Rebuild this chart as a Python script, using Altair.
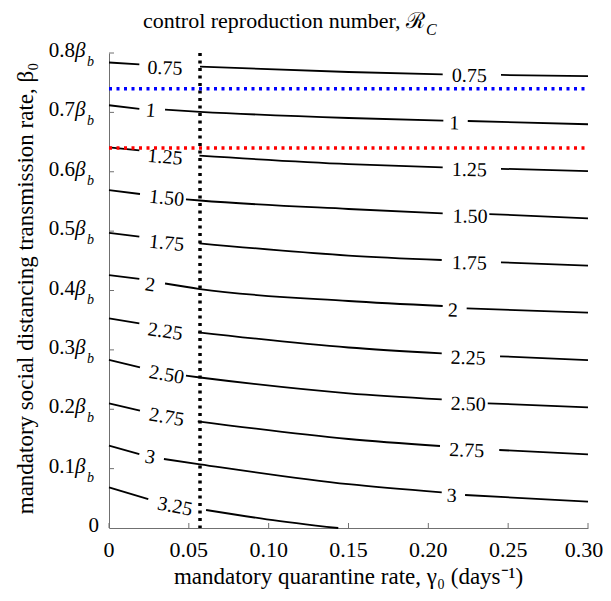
import altair as alt
import pandas as pd

# ---------------- data ----------------
# x: mandatory quarantine rate gamma0 (days^-1); y: beta0 in units of beta_b
# each contour = list of visible segments (gaps are where labels sit)
C0_75 = [[(0.0, 0.784), (0.019, 0.781)],
         [(0.057, 0.777), (0.150, 0.768), (0.209, 0.764)],
         [(0.2455, 0.763), (0.300, 0.761)]]
C1_00 = [[(0.0, 0.712), (0.019, 0.706)],
         [(0.0351, 0.7045), (0.057, 0.701), (0.150, 0.6905), (0.2094, 0.686)],
         [(0.2247, 0.6855), (0.300, 0.680)]]
C1_25 = [[(0.0, 0.641), (0.019, 0.636)],
         [(0.0566, 0.627), (0.150, 0.613), (0.209, 0.6075)],
         [(0.2455, 0.605), (0.300, 0.601)]]
C1_50 = [[(0.0, 0.569), (0.0194, 0.5625)],
         [(0.0482, 0.5536), (0.057, 0.5516), (0.150, 0.5373), (0.209, 0.530)],
         [(0.2382, 0.5288), (0.300, 0.5216)]]
C1_75 = [[(0.0, 0.497), (0.019, 0.4906)],
         [(0.0566, 0.4795), (0.150, 0.4589), (0.2084, 0.4514)],
         [(0.2455, 0.4475), (0.300, 0.4418)]]
C2_00 = [[(0.0, 0.426), (0.019, 0.4194)],
         [(0.0351, 0.4118), (0.057, 0.4025), (0.150, 0.3823), (0.209, 0.3739)],
         [(0.224, 0.370), (0.300, 0.3626)]]
C2_25 = [[(0.0, 0.353), (0.019, 0.3448)],
         [(0.0559, 0.3296), (0.150, 0.304), (0.2084, 0.2942)],
         [(0.2449, 0.2892), (0.300, 0.2829)]]
C2_50 = [[(0.0, 0.283), (0.0194, 0.2707)],
         [(0.0482, 0.2565), (0.057, 0.2535), (0.150, 0.2269), (0.2084, 0.2168)],
         [(0.2372, 0.210), (0.300, 0.2033)]]
C2_75 = [[(0.0, 0.210), (0.0194, 0.1976)],
         [(0.0556, 0.1797), (0.150, 0.1499), (0.2073, 0.1381)],
         [(0.2444, 0.1314), (0.300, 0.1241)]]
C3_00 = [[(0.0, 0.1386), (0.019, 0.1246)],
         [(0.0344, 0.1162), (0.057, 0.1073), (0.150, 0.0738), (0.2084, 0.0601)],
         [(0.223, 0.0556), (0.300, 0.0443)]]
C3_25 = [[(0.0, 0.0685), (0.0246, 0.0488)],
         [(0.0608, 0.0303), (0.0988, 0.0147), (0.1436, 0.0)]]
CONTOURS = [C0_75, C1_00, C1_25, C1_50, C1_75, C2_00, C2_25, C2_50, C2_75, C3_00, C3_25]

# inline contour labels
LABEL_TEXT = ["0.75", "1", "1.25", "1.50", "1.75", "2", "2.25", "2.50", "2.75", "3", "3.25",
              "0.75", "1", "1.25", "1.50", "1.75", "2", "2.25", "2.50", "2.75", "3"]
LABEL_X = [0.0351, 0.0261, 0.0351, 0.0361, 0.0361, 0.0257, 0.0351, 0.0361, 0.0361, 0.0257, 0.0413,
           0.2257, 0.2163, 0.2257, 0.2261, 0.2257, 0.2153, 0.2250, 0.2250, 0.2240, 0.2146]
LABEL_Y = [0.7742, 0.7028, 0.6243, 0.5553, 0.4795, 0.4093, 0.3306, 0.2577, 0.1864, 0.1191, 0.0359,
           0.7613, 0.6816, 0.6029, 0.5243, 0.4458, 0.3660, 0.2858, 0.2083, 0.1302, 0.0539]
LABEL_ANGLE = [2, 5, 5, 6, 6, 8, 8, 10, 10, 11, 11,
               1, 1, 1, 1, 1, 1, 1.5, 2, 2, 2]

# reference lines
GAMMA_LINE = 0.057   # vertical dotted black
BETA_BLUE = 0.74     # horizontal dotted blue
BETA_RED = 0.64      # horizontal dotted red

X_TICKS = [0, 0.05, 0.10, 0.15, 0.20, 0.25, 0.30]
X_TICK_TEXT = ["0", "0.05", "0.10", "0.15", "0.20", "0.25", "0.30"]
Y_TICKS = [0.1, 0.2, 0.3, 0.4, 0.5, 0.6, 0.7, 0.8]

# ---------------- build ----------------
W, H = 479, 475
SERIF = "Liberation Serif"
AX = "#707070"

rows = []
seg_id = 0
for c in CONTOURS:
    for seg in c:
        for i, (gx, by) in enumerate(seg):
            rows.append({"g": gx, "b": by, "seg": seg_id, "o": i})
        seg_id += 1
lines_df = pd.DataFrame(rows)
labels_df = pd.DataFrame({"g": LABEL_X, "b": LABEL_Y, "t": LABEL_TEXT, "a": LABEL_ANGLE})

xs = alt.Scale(domain=[0, 0.3], nice=False, zero=False)
ys = alt.Scale(domain=[0, 0.8], nice=False, zero=False)

x_axis = alt.Axis(ticks=False, tickSize=0, grid=False, labels=False, domainColor=AX, title=None)
y_axis = alt.Axis(ticks=False, tickSize=0, grid=False, labels=False, domainColor=AX, title=None)

base = alt.Chart(lines_df)
contours = base.mark_line(color="black", strokeWidth=1.8, interpolate="monotone").encode(
    x=alt.X("g:Q", scale=xs, axis=x_axis),
    y=alt.Y("b:Q", scale=ys, axis=y_axis),
    detail="seg:N",
    order="o:Q",
)

labels = alt.Chart(labels_df).mark_text(font=SERIF, fontSize=20, color="black",
                                        align="center", baseline="middle").encode(
    x=alt.X("g:Q", scale=xs), y=alt.Y("b:Q", scale=ys), text="t:N",
    angle=alt.Angle("a:Q", scale=None),
)

dot = dict(strokeWidth=3.5, strokeDash=[3, 4.5])
vline = alt.Chart(pd.DataFrame({"g": [GAMMA_LINE, GAMMA_LINE], "b": [0.8, 0.0]})).mark_line(
    color="black", **dot).encode(x=alt.X("g:Q", scale=xs), y=alt.Y("b:Q", scale=ys))
hblue = alt.Chart(pd.DataFrame({"g": [0.0, 0.3], "b": [BETA_BLUE, BETA_BLUE]})).mark_line(
    color="#0000ff", **dot).encode(x=alt.X("g:Q", scale=xs), y=alt.Y("b:Q", scale=ys))
hred = alt.Chart(pd.DataFrame({"g": [0.0, 0.3], "b": [BETA_RED, BETA_RED]})).mark_line(
    color="#ff0000", **dot).encode(x=alt.X("g:Q", scale=xs), y=alt.Y("b:Q", scale=ys))

xt = alt.Chart(pd.DataFrame({"g": X_TICKS})).mark_rule(color=AX, strokeWidth=1).encode(
    x=alt.X("g:Q", scale=xs), y=alt.value(H), y2=alt.value(H - 5))
yt = alt.Chart(pd.DataFrame({"b": Y_TICKS})).mark_rule(color=AX, strokeWidth=1).encode(
    y=alt.Y("b:Q", scale=ys), x=alt.value(0), x2=alt.value(5))

# x tick labels (last one nudged left so it stays inside the page)
xlab_df = pd.DataFrame({"g": X_TICKS, "t": X_TICK_TEXT})
xlab_main = alt.Chart(xlab_df.iloc[:-1]).mark_text(
    font=SERIF, fontSize=22, align="center", baseline="middle", color="black").encode(
    x=alt.X("g:Q", scale=xs), y=alt.value(H + 22), text="t:N")
xlab_last = alt.Chart(xlab_df.iloc[-1:]).mark_text(
    font=SERIF, fontSize=22, align="center", baseline="middle", dx=-4, color="black").encode(
    x=alt.X("g:Q", scale=xs), y=alt.value(H + 22), text="t:N")

ylab_df = pd.DataFrame({"b": Y_TICKS, "t": [f"{v:.1f}" for v in Y_TICKS]})
ynum = alt.Chart(ylab_df).mark_text(font=SERIF, fontSize=21, align="right", baseline="middle",
                                    dy=-2, color="black").encode(
    x=alt.value(-34), y=alt.Y("b:Q", scale=ys), text="t:N")
ybeta = alt.Chart(ylab_df).mark_text(font=SERIF, fontSize=21, fontStyle="italic", align="left",
                                     baseline="middle", dy=-2, color="black").encode(
    x=alt.value(-34), y=alt.Y("b:Q", scale=ys), text=alt.value("β"))
ysub = alt.Chart(ylab_df).mark_text(font=SERIF, fontSize=14, fontStyle="italic", align="left",
                                    baseline="middle", dy=9, color="black").encode(
    x=alt.value(-22), y=alt.Y("b:Q", scale=ys), text=alt.value("b"))
yzero = alt.Chart(pd.DataFrame({"b": [0.0]})).mark_text(
    font=SERIF, fontSize=21, align="right", baseline="middle", dy=-2, color="black").encode(
    x=alt.value(-10), y=alt.Y("b:Q", scale=ys), text=alt.value("0"))

one = pd.DataFrame({"k": [0]})
title_main = alt.Chart(one).mark_text(font=SERIF, fontSize=22, align="right",
                                      baseline="alphabetic", color="black").encode(
    x=alt.value(316), y=alt.value(-25), text=alt.value("control reproduction number, ℛ"))
title_sub = alt.Chart(one).mark_text(font=SERIF, fontSize=16, fontStyle="italic", align="left",
                                     baseline="alphabetic", color="black").encode(
    x=alt.value(317), y=alt.value(-18), text=alt.value("C"))
xtitle = alt.Chart(one).mark_text(font=SERIF, fontSize=23, align="center",
                                  baseline="alphabetic", color="black").encode(
    x=alt.value(W / 2), y=alt.value(H + 56),
    text=alt.value("mandatory quarantine rate, γ₀ (days⁻¹)"))
ytitle = alt.Chart(one).mark_text(font=SERIF, fontSize=23, align="center", angle=270,
                                  baseline="alphabetic", color="black").encode(
    x=alt.value(-76), y=alt.value(H / 2 - 2),
    text=alt.value("mandatory social distancing transmission rate, β₀"))

chart = alt.layer(
    contours, labels, vline, hblue, hred, xt, yt, xlab_main, xlab_last,
    ynum, ybeta, ysub, yzero, title_main, title_sub, xtitle, ytitle,
).properties(
    width=W, height=H,
    autosize=alt.AutoSizeParams(type="none"),
    padding={"left": 101, "top": 45, "right": 15, "bottom": 65},
).configure_view(stroke=None).configure_axis(domainWidth=1)

chart.save("out.html", embed_options={"renderer": "svg", "actions": False})
